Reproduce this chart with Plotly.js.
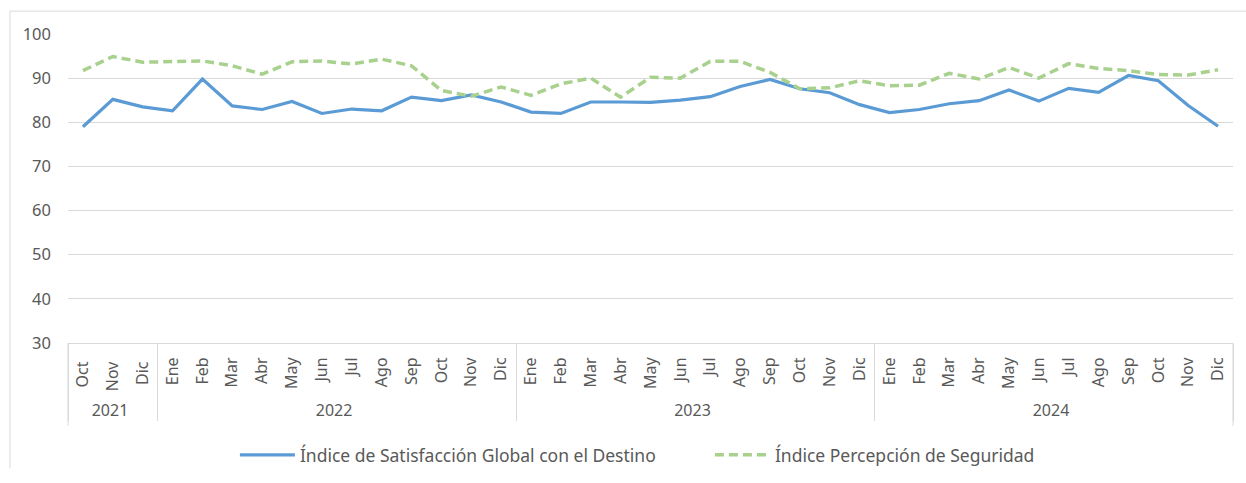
<!DOCTYPE html>
<html>
<head>
<meta charset="utf-8">
<script src="https://cdn.plot.ly/plotly-3.0.1.min.js"></script>
<style>html,body{margin:0;padding:0;background:#fff;}#chart{width:1246px;height:483px;}</style>
</head>
<body>
<div id="chart"></div>
<script>
const years = ["2021","2021","2021",
  "2022","2022","2022","2022","2022","2022","2022","2022","2022","2022","2022","2022",
  "2023","2023","2023","2023","2023","2023","2023","2023","2023","2023","2023","2023",
  "2024","2024","2024","2024","2024","2024","2024","2024","2024","2024","2024","2024"];
const months = ["Oct","Nov","Dic",
  "Ene","Feb","Mar","Abr","May","Jun","Jul","Ago","Sep","Oct","Nov","Dic",
  "Ene","Feb","Mar","Abr","May","Jun","Jul","Ago","Sep","Oct","Nov","Dic",
  "Ene","Feb","Mar","Abr","May","Jun","Jul","Ago","Sep","Oct","Nov","Dic"];
const satisfaccion = [79.0,85.2,83.5,
  82.6,89.8,83.7,82.9,84.7,82.0,83.0,82.6,85.7,84.9,86.2,84.6,
  82.3,82.0,84.6,84.6,84.5,85.0,85.8,88.1,89.7,87.6,86.7,84.0,
  82.2,82.9,84.2,84.9,87.3,84.8,87.7,86.8,90.6,89.4,83.8,79.1];
const seguridad = [91.7,94.9,93.6,
  93.8,93.9,92.8,90.9,93.7,93.9,93.2,94.3,92.8,87.2,85.9,88.0,
  86.1,88.7,90.0,85.7,90.2,90.0,93.8,93.8,91.3,87.6,87.8,89.4,
  88.3,88.4,91.1,89.8,92.4,90.0,93.3,92.2,91.7,90.8,90.7,91.9];
const yTicks = [30,40,50,60,70,80,90,100];

// Plotly orders multicategory children by first appearance across all years;
// a trailing (collapsed, invisible) space on the partial first year keeps the
// chronological Ene..Dic order inside every later year.
const monthKeys = months.map((m, i) => years[i] === years[0] ? m + " " : m);

const traces = [
  {x:[years,monthKeys], y:satisfaccion, type:"scatter", mode:"lines",
   name:"Índice de Satisfacción Global con el Destino",
   line:{color:"#5B9BD5", width:3.2}},
  {x:[years,monthKeys], y:seguridad, type:"scatter", mode:"lines",
   name:"Índice Percepción de Seguridad",
   line:{color:"#A9D18E", width:3.5, dash:"9px,5px"}}
];

const layout = {
  width:1246, height:483,
  margin:{l:68, r:13, t:34, b:139},
  paper_bgcolor:"#fff", plot_bgcolor:"#fff",
  font:{family:"Noto Sans, Open Sans, sans-serif", color:"#595959", size:16},
  showlegend:true,
  legend:{orientation:"h", x:0.551, xanchor:"center", y:-0.358, yanchor:"middle",
    font:{size:17.5, color:"#595959"}, itemwidth:55, traceorder:"normal",
    entrywidth:405},
  xaxis:{type:"multicategory", range:[-0.5, 38.5],
    showgrid:false, tickangle:-90,
    showline:true, linecolor:"#D9D9D9", linewidth:1,
    showdividers:true, dividercolor:"#D9D9D9", dividerwidth:1,
    ticks:"", tickfont:{size:16, color:"#595959"}, zeroline:false,
    ticklabelstandoff:7},
  yaxis:{range:[30,100], tickvals:yTicks, showgrid:true, gridcolor:"#D9D9D9",
    gridwidth:1, zeroline:false, showline:false, ticks:"",
    tickfont:{size:16.5, color:"#595959"}, ticklabelstandoff:16},
  shapes:[
    {type:"line", xref:"paper", yref:"paper", x0:-0.0498, x1:1.02, y0:1.074, y1:1.074,
     line:{color:"#D9D9D9", width:1}},
    {type:"line", xref:"paper", yref:"paper", x0:-0.0498, x1:-0.0498, y0:1.074, y1:-0.406,
     line:{color:"#D9D9D9", width:1}},
    {type:"line", xref:"paper", yref:"paper", x0:0, x1:0, y0:0, y1:-0.268,
     line:{color:"#D9D9D9", width:1}},
    {type:"line", xref:"paper", yref:"paper", x0:1, x1:1, y0:0, y1:-0.268,
     line:{color:"#D9D9D9", width:1}}
  ]
};
Plotly.newPlot("chart", traces, layout, {displayModeBar:false, staticPlot:true});
</script>
</body>
</html>
